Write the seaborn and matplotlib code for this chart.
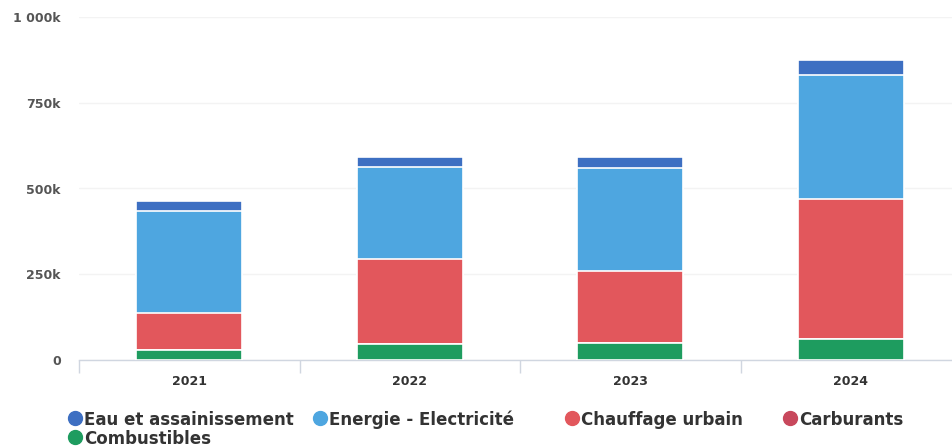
import numpy as np
import pandas as pd
import matplotlib
matplotlib.use("Agg")
import matplotlib.pyplot as plt
from matplotlib.lines import Line2D
from matplotlib.ticker import FuncFormatter
import seaborn as sns

# Data (thousands)
years = ["2021", "2022", "2023", "2024"]
eau = [30, 28, 31, 44]
energie = [297, 270, 300, 362]
chauffage = [108, 247, 210, 408]
carburants = [0, 0, 0, 0]
combustibles = [29, 47, 50, 61]

series_names = ["Eau et assainissement", "Energie - Electricité", "Chauffage urbain",
                "Carburants", "Combustibles"]
colors = {
    "Eau et assainissement": "#3d6fc2",
    "Energie - Electricité": "#4ea6e0",
    "Chauffage urbain": "#e2575c",
    "Carburants": "#c8485c",
    "Combustibles": "#1e9c5f",
}

sns.set_theme(style="white")
plt.rcParams["font.family"] = ["DejaVu Sans"]

# stacked order from bottom to top
stack_order = ["Combustibles", "Carburants", "Chauffage urbain",
               "Energie - Electricité", "Eau et assainissement"]
values = {
    "Eau et assainissement": eau,
    "Energie - Electricité": energie,
    "Chauffage urbain": chauffage,
    "Carburants": carburants,
    "Combustibles": combustibles,
}
cum = np.zeros(len(years))
cumulative = {}
for name in stack_order:
    cum = cum + np.array(values[name], dtype=float)
    cumulative[name] = cum.copy()

fig = plt.figure(figsize=(9.52, 4.48), dpi=100)
ax = fig.add_axes([79 / 952, 88 / 448, 882 / 952, 343 / 448])

# draw tallest cumulative layer first, each lower layer on top of it
for name in reversed(stack_order):
    df = pd.DataFrame({"year": years, "value": cumulative[name]})
    sns.barplot(data=df, x="year", y="value", color=colors[name], width=0.48,
                edgecolor="white", linewidth=1.2, saturation=1, ax=ax, zorder=3)

ax.set_xlim(-0.5, 3.5)
ax.set_ylim(0, 1000)
ax.set_yticks([0, 250, 500, 750, 1000])
ax.yaxis.set_major_formatter(FuncFormatter(
    lambda v, p: "0" if v == 0 else f"{int(v):,}".replace(",", " ") + "k"))
ax.grid(axis="y", color="#f3f3f3", linewidth=1, zorder=0)
ax.grid(axis="x", visible=False)
ax.set_xlabel("")
ax.set_ylabel("")

for s in ["top", "right", "left"]:
    ax.spines[s].set_visible(False)
ax.spines["bottom"].set_color("#d0d6e0")
ax.spines["bottom"].set_linewidth(1)

ax.tick_params(axis="y", length=0, pad=13, labelsize=9, labelcolor="#555555")
ax.tick_params(axis="x", which="major", length=0, pad=11, labelsize=9, labelcolor="#333333")
for lab in ax.get_yticklabels() + ax.get_xticklabels():
    lab.set_fontweight("bold")

# tick marks at category boundaries
ax.set_xticks([-0.5, 0.5, 1.5, 2.5, 3.5], minor=True)
ax.tick_params(axis="x", which="minor", bottom=True, length=9, width=1,
               color="#d0d6e0", direction="out")

# legend items laid out in rows
legend_items = [
    ("Eau et assainissement", 75, 418),
    ("Energie - Electricité", 320, 418),
    ("Chauffage urbain", 572, 418),
    ("Carburants", 790, 418),
    ("Combustibles", 75, 437),
]
W, H = 952, 448
for name, px, py in legend_items:
    fig.add_artist(Line2D([px / W], [1 - py / H], transform=fig.transFigure,
                          marker="o", linestyle="", markersize=10,
                          markerfacecolor=colors[name], markeredgecolor=colors[name]))
    fig.text((px + 9) / W, 1 - py / H, name, ha="left", va="center_baseline",
             fontsize=12, fontweight="bold", color="#333333")

fig.savefig("out.png", dpi=100)
